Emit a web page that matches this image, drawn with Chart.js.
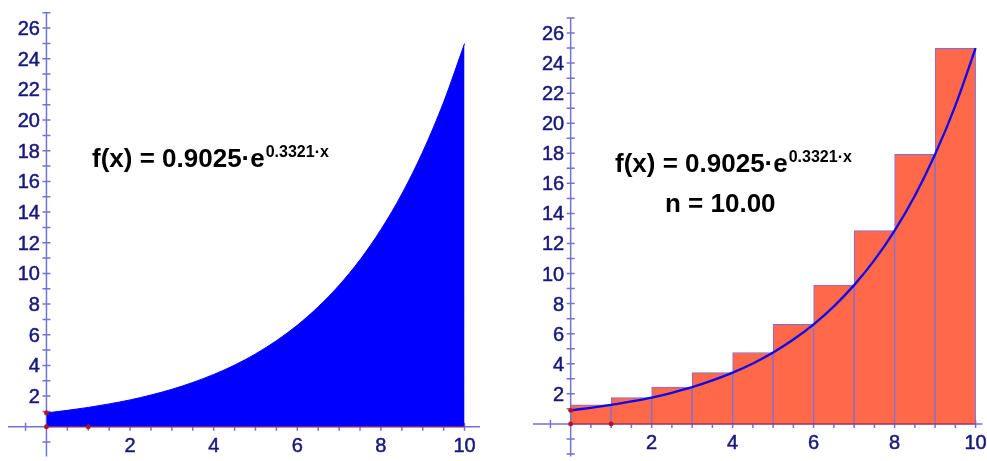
<!DOCTYPE html>
<html>
<head>
<meta charset="utf-8">
<script src="https://cdn.jsdelivr.net/npm/chart.js@4/dist/chart.umd.min.js"></script>
<style>
  html, body { margin: 0; padding: 0; background: #fff; }
  body { width: 987px; height: 461px; position: relative; overflow: hidden; }
  canvas { position: absolute; top: 0; }
  #leftChart { left: 0; }
  #rightChart { left: 500px; }
</style>
</head>
<body>
<canvas id="leftChart" width="500" height="461"></canvas>
<canvas id="rightChart" width="487" height="461"></canvas>
<script>
// curve f(x), every half unit
const curveX = [0, 0.5, 1, 1.5, 2, 2.5, 3, 3.5, 4, 4.5, 5, 5.5, 6, 6.5, 7, 7.5, 8, 8.5, 9, 9.5, 10];
const curveY = [0.90, 1.07, 1.26, 1.49, 1.75, 2.07, 2.44, 2.89, 3.41, 4.02, 4.75, 5.61, 6.62, 7.82, 9.23, 10.89, 12.86, 15.18, 17.93, 21.17, 24.99];

// right-hand rectangles, n = 10
const rectMid = [0.5, 1.5, 2.5, 3.5, 4.5, 5.5, 6.5, 7.5, 8.5, 9.5];
const rectHeight = [1.26, 1.75, 2.44, 3.41, 4.75, 6.62, 9.23, 12.86, 17.93, 24.99];

// small red points
const markX = [0, 0, 1];
const markY = [0.9, 0, 0];
const baseX = [0, 10];
const baseY = [0, 0];

const xTickLabels = [2, 4, 6, 8, 10];
const yTickLabels = [2, 4, 6, 8, 10, 12, 14, 16, 18, 20, 22, 24, 26];

const formulaBase = "f(x) = 0.9025·e";
const formulaExp = "0.3321·x";
const nLabel = "n = 10.00";

const AXIS_COLOR = "rgb(115,115,210)";
const LABEL_COLOR = "#18187c";
const LABEL_FONT = "20px 'Liberation Sans', Arial, sans-serif";
const TITLE_FONT = "bold 26px 'Liberation Sans', Arial, sans-serif";
const EXP_FONT = "bold 16px 'Liberation Sans', Arial, sans-serif";

const pts = (xs, ys) => xs.map((x, i) => ({ x: x, y: ys[i] }));

// axes crossing at the origin, minor ticks across the line
const axesPlugin = {
  id: "axes",
  beforeDatasetsDraw(chart) {
    const ctx = chart.ctx;
    const area = chart.chartArea;
    const xs = chart.scales.x;
    const ys = chart.scales.y;
    const x0 = xs.getPixelForValue(0);
    const y0 = ys.getPixelForValue(0);
    ctx.save();
    ctx.strokeStyle = AXIS_COLOR;
    ctx.lineWidth = 1.5;
    ctx.beginPath();
    ctx.moveTo(area.left, y0);
    ctx.lineTo(area.right, y0);
    ctx.moveTo(x0, area.top);
    ctx.lineTo(x0, area.bottom);
    for (let v = Math.ceil(xs.min * 2) / 2; v <= xs.max; v += 0.5) {
      if (v === 0) continue;
      const px = xs.getPixelForValue(v);
      ctx.moveTo(px, y0 - 4);
      ctx.lineTo(px, y0 + 4);
    }
    for (let v = Math.ceil(ys.min); v <= ys.max; v += 1) {
      if (v === 0) continue;
      const py = ys.getPixelForValue(v);
      ctx.moveTo(x0 - 4, py);
      ctx.lineTo(x0 + 4, py);
    }
    ctx.stroke();

    // labels, with a hairline stroke to thicken them a little
    ctx.fillStyle = LABEL_COLOR;
    ctx.strokeStyle = LABEL_COLOR;
    ctx.lineWidth = 0.5;
    ctx.font = LABEL_FONT;
    ctx.textBaseline = "alphabetic";
    ctx.textAlign = "center";
    xTickLabels.forEach((v) => {
      const px = xs.getPixelForValue(v);
      ctx.fillText(String(v), px, y0 + 25);
      ctx.strokeText(String(v), px, y0 + 25);
    });
    ctx.textAlign = "right";
    yTickLabels.forEach((v) => {
      const py = ys.getPixelForValue(v) + 7;
      ctx.fillText(String(v), x0 - 6.5, py);
      ctx.strokeText(String(v), x0 - 6.5, py);
    });
    ctx.restore();
  },
};

function formulaPlugin(x, baseline, withN) {
  return {
    id: "formula",
    afterDraw(chart) {
      const ctx = chart.ctx;
      ctx.save();
      ctx.fillStyle = "#000";
      ctx.textAlign = "left";
      ctx.textBaseline = "alphabetic";
      ctx.font = TITLE_FONT;
      ctx.fillText(formulaBase, x, baseline);
      const w = ctx.measureText(formulaBase).width;
      ctx.font = EXP_FONT;
      ctx.fillText(formulaExp, x + w + 1, baseline - 10);
      if (withN) {
        ctx.font = TITLE_FONT;
        ctx.fillText(nLabel, x + 50, baseline + 40);
      }
      ctx.restore();
    },
  };
}

const markerSet = {
  type: "line",
  data: pts(markX, markY),
  showLine: false,
  pointStyle: "circle",
  pointRadius: 2.2,
  pointBackgroundColor: "rgb(175,20,35)",
  pointBorderColor: "rgb(175,20,35)",
  pointBorderWidth: 0.5,
  clip: false,
  order: 0,
};
const baseSet = {
  type: "line",
  data: pts(baseX, baseY),
  borderColor: "rgb(165,35,80)",
  borderWidth: 1,
  pointRadius: 0,
  order: 1,
};

const commonOptions = (xmin, xmax, ymin, ymax, padding) => ({
  responsive: false,
  animation: false,
  events: [],
  layout: { padding: padding },
  plugins: { legend: { display: false }, tooltip: { enabled: false } },
  scales: {
    x: { type: "linear", min: xmin, max: xmax, display: false, offset: false },
    y: { type: "linear", min: ymin, max: ymax, display: false },
  },
});

new Chart(document.getElementById("leftChart"), {
  type: "line",
  data: {
    datasets: [
      markerSet,
      baseSet,
      {
        data: pts(curveX, curveY),
        fill: "origin",
        backgroundColor: "#0000ff",
        borderColor: "#0000ff",
        borderWidth: 1,
        pointRadius: 0,
        cubicInterpolationMode: "monotone",
        order: 2,
      },
    ],
  },
  options: commonOptions(-0.92, 10.37, -1.94, 27.05, { left: 8, right: 20, top: 12, bottom: 0 }),
  plugins: [axesPlugin, formulaPlugin(92, 167, false)],
});

new Chart(document.getElementById("rightChart"), {
  type: "bar",
  data: {
    datasets: [
      markerSet,
      {
        type: "line",
        data: pts(curveX, curveY),
        fill: false,
        borderColor: "#0a0af0",
        borderWidth: 2.3,
        pointRadius: 0,
        cubicInterpolationMode: "monotone",
        order: 1,
      },
      baseSet,
      {
        type: "bar",
        data: pts(rectMid, rectHeight),
        backgroundColor: "rgb(255,104,72)",
        borderColor: "rgb(120,110,225)",
        borderWidth: 1,
        barPercentage: 1,
        categoryPercentage: 1,
        order: 3,
      },
    ],
  },
  options: commonOptions(-0.93, 10.17, -2.17, 27.0, { left: 33, right: 0, top: 18, bottom: 0 }),
  plugins: [axesPlugin, formulaPlugin(115, 172, true)],
});
</script>
</body>
</html>
